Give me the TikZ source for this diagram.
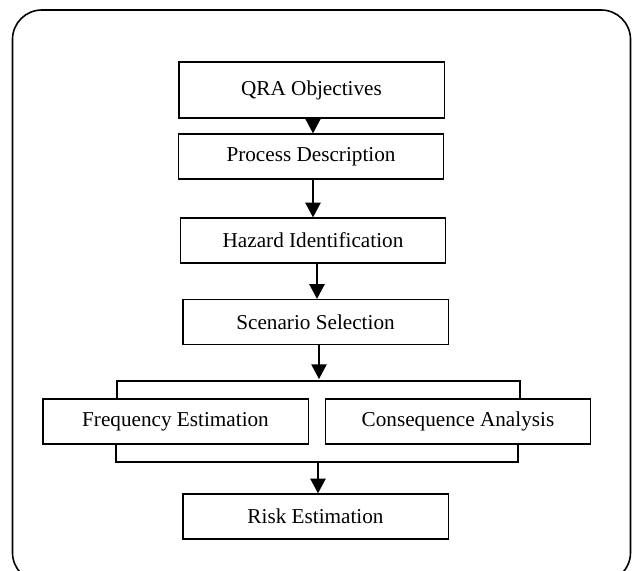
\documentclass[tikz,border=0pt]{standalone}
\usepackage{fontspec}
\setmainfont{Liberation Serif}
\usepackage{tikz}
\usetikzlibrary{calc,arrows.meta}
\tikzset{
  stage/.style={draw=black,line width=1pt,minimum width=199pt,minimum height=33.75pt,inner sep=0pt,align=center,font=\fontsize{15.9}{19}\selectfont},
  ar/.style={-{Triangle[length=11pt,width=11.5pt]},line width=1pt},
  ln/.style={line width=1pt},
  frame/.style={line width=1.2pt,rounded corners=22pt}
}
\begin{document}
\begin{tikzpicture}[x=0.75pt,y=-0.75pt]
\useasboundingbox (0,0) rectangle (632,571);
\draw[frame] (12.5,10) rectangle (630.5,582);
\node[stage,minimum height=42pt] (qra) at (311.5,90) {QRA Objectives};
\node[stage] (proc) at (311,156.5) {Process Description};
\node[stage] (haz) at (313,240.5) {Hazard Identification};
\node[stage] (scen) at (315.5,322) {Scenario Selection};
\node[stage] (freq) at (175.5,421.5) {Frequency Estimation};
\node[stage] (cons) at (458,421.5) {Consequence Analysis};
\node[stage] (risk) at (315.5,516.5) {Risk Estimation};
\coordinate (splitT) at (319,381);
\coordinate (joinB) at (318,462);
% main chain
\draw[ar] (qra.south -| 313,0) -- (proc.north -| 313,0);
\draw[ar] (proc.south -| 313,0) -- (haz.north -| 313,0);
\draw[ar] (haz.south -| 317,0) -- (scen.north -| 317,0);
\draw[ar] (scen.south -| splitT) -- ([yshift=1.5pt]splitT);
% split and join
\draw[ln] ($(freq.north)+(-58.5,0)$) |- (splitT) -| ($(cons.north)+(62,0)$);
\draw[ln] ($(freq.south)+(-59.5,0)$) |- (joinB) -| ($(cons.south)+(60,0)$);
\draw[ar] (joinB) -- (joinB |- risk.north);
\end{tikzpicture}
\end{document}
